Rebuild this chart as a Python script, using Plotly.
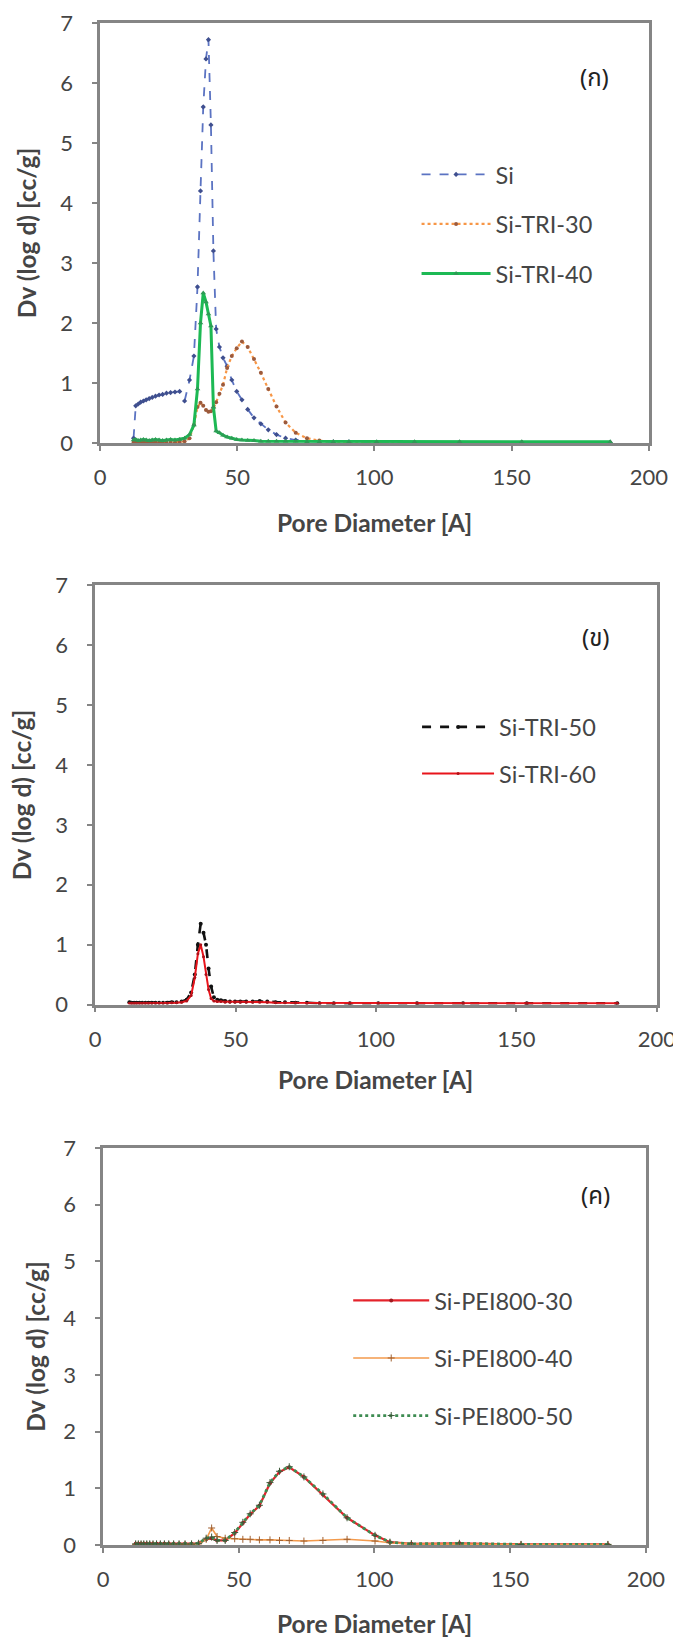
import plotly.graph_objects as go

# ---------------- data ----------------
# Panel (ก): pore size distributions (BJH) of Si, Si-TRI-30, Si-TRI-40
d_a = [12.2, 13.0, 13.9, 14.8, 15.8, 16.8, 17.9, 19.0, 20.2, 21.5, 22.8, 24.2,
       25.7, 27.3, 29.0, 30.8, 32.6, 34.2, 35.5, 36.6, 37.6, 38.6, 39.5, 40.4,
       41.3, 42.3, 43.5, 44.8, 46.3, 48.0, 49.8, 51.7, 53.8, 56.1, 58.6, 61.3,
       64.3, 67.6, 71.3, 75.4, 79.9, 85.0, 90.7, 100.8, 114.6, 131.0, 153.7, 185.9]
si = [0.08, 0.62, 0.65, 0.68, 0.70, 0.72, 0.74, 0.76, 0.78, 0.80, 0.81, 0.83,
      0.84, 0.85, 0.86, 0.70, 1.05, 1.45, 2.60, 4.20, 5.60, 6.40, 6.72, 5.30,
      3.20, 1.90, 1.60, 1.42, 1.28, 1.05, 0.86, 0.72, 0.56, 0.42, 0.32, 0.22,
      0.14, 0.08, 0.05, 0.03, 0.02, 0.02, 0.02, 0.01, 0.01, 0.01, 0.01, 0.01]
si_tri_30 = [0.01, 0.01, 0.01, 0.01, 0.01, 0.01, 0.01, 0.01, 0.01, 0.01, 0.01, 0.01,
             0.01, 0.01, 0.02, 0.03, 0.08, 0.30, 0.60, 0.67, 0.62, 0.55, 0.52, 0.53,
             0.58, 0.68, 0.82, 0.97, 1.25, 1.45, 1.58, 1.69, 1.60, 1.40, 1.17, 0.90,
             0.61, 0.34, 0.17, 0.08, 0.04, 0.02, 0.01, 0.01, 0.01, 0.01, 0.01, 0.01]
si_tri_40 = [0.05, 0.06, 0.04, 0.05, 0.06, 0.05, 0.04, 0.05, 0.06, 0.05, 0.04, 0.05,
             0.06, 0.05, 0.06, 0.08, 0.14, 0.30, 0.90, 2.00, 2.50, 2.35, 2.15, 1.95,
             0.60, 0.20, 0.17, 0.13, 0.10, 0.08, 0.06, 0.05, 0.04, 0.04, 0.03, 0.03,
             0.03, 0.03, 0.03, 0.02, 0.02, 0.02, 0.02, 0.02, 0.02, 0.02, 0.02, 0.02]

# Panel (ข): Si-TRI-50, Si-TRI-60
d_b = [12.2, 13.0, 13.9, 14.8, 15.8, 16.8, 17.9, 19.0, 20.2, 21.5, 22.8, 24.2,
       25.7, 27.3, 29.0, 30.8, 32.6, 34.2, 35.5, 36.6, 37.6, 38.6, 39.5, 40.4,
       41.3, 42.3, 43.5, 44.8, 46.3, 48.0, 49.8, 51.7, 53.8, 56.1, 58.6, 61.3,
       64.3, 67.6, 71.3, 75.4, 79.9, 85.0, 90.7, 100.8, 114.6, 131.0, 153.7, 185.9]
si_tri_50 = [0.04, 0.03, 0.03, 0.03, 0.03, 0.03, 0.03, 0.03, 0.03, 0.03, 0.03, 0.03,
             0.03, 0.04, 0.04, 0.05, 0.08, 0.20, 0.50, 1.00, 1.35, 1.20, 1.00, 0.60,
             0.30, 0.12, 0.08, 0.07, 0.06, 0.05, 0.05, 0.05, 0.05, 0.05, 0.06, 0.05,
             0.04, 0.04, 0.03, 0.03, 0.02, 0.02, 0.02, 0.02, 0.02, 0.02, 0.02, 0.02]
si_tri_60 = [0.02, 0.02, 0.02, 0.02, 0.02, 0.02, 0.02, 0.02, 0.02, 0.02, 0.02, 0.02,
             0.02, 0.03, 0.03, 0.04, 0.06, 0.15, 0.45, 0.85, 1.00, 0.80, 0.50, 0.25,
             0.10, 0.06, 0.05, 0.05, 0.04, 0.04, 0.04, 0.04, 0.04, 0.04, 0.04, 0.04,
             0.03, 0.03, 0.03, 0.02, 0.02, 0.02, 0.02, 0.02, 0.02, 0.02, 0.02, 0.02]

# Panel (ค): Si-PEI800-30, -40, -50
d_c = [12.0, 13.0, 14.0, 15.0, 16.1, 17.2, 18.4, 19.7, 21.1, 22.6, 24.2, 26.0,
       28.0, 30.2, 32.6, 35.2, 38.0, 40.0, 42.0, 45.0, 48.5, 51.5, 54.2, 57.6,
       61.5, 65.0, 68.6, 74.0, 81.0, 89.9, 100.2, 105.7, 113.6, 131.3, 154.0, 186.0]
si_pei_30 = [0.02, 0.02, 0.02, 0.02, 0.02, 0.02, 0.02, 0.02, 0.02, 0.02, 0.02, 0.02,
             0.02, 0.02, 0.02, 0.03, 0.10, 0.12, 0.08, 0.08, 0.21, 0.39, 0.54, 0.69,
             1.09, 1.29, 1.37, 1.20, 0.89, 0.48, 0.17, 0.05, 0.02, 0.03, 0.01, 0.01]
si_pei_40 = [0.01, 0.01, 0.01, 0.01, 0.01, 0.01, 0.01, 0.01, 0.01, 0.01, 0.01, 0.01,
             0.01, 0.01, 0.01, 0.02, 0.10, 0.30, 0.15, 0.12, 0.11, 0.10, 0.10, 0.09,
             0.09, 0.08, 0.08, 0.07, 0.08, 0.10, 0.07, 0.04, 0.02, 0.01, 0.01, 0.01]
si_pei_50 = [0.02, 0.02, 0.02, 0.02, 0.02, 0.02, 0.02, 0.02, 0.02, 0.02, 0.02, 0.02,
             0.02, 0.02, 0.02, 0.03, 0.12, 0.14, 0.08, 0.08, 0.22, 0.40, 0.55, 0.70,
             1.10, 1.30, 1.38, 1.20, 0.90, 0.48, 0.17, 0.05, 0.02, 0.03, 0.01, 0.01]

x_ticks = [0, 50, 100, 150, 200]
y_ticks = [0, 1, 2, 3, 4, 5, 6, 7]
x_title = "Pore Diameter [A]"
y_title = "Dv (log d) [cc/g]"
panel_tags = ["(ก)", "(ข)", "(ค)"]

# ---------------- page geometry ----------------
# Positions below are written in screen pixels of the 673 x 1637 view;
# SX/OX and SY/OY convert them to pixels of the html document.
SX, OX = 0.966, -4.0
SY, OY = 0.981, 7.3
BODY = 8                                   # default html body margin
W = int(round((673 - OX) / SX)) - BODY
H = int(round((1637 - OY) / SY)) - BODY


def px(x_img):
    return ((x_img - OX) / SX - BODY) / W


def py(y_img):
    return 1 - ((y_img - OY) / SY - BODY) / H


def plen(d_img):
    return d_img / SX


FONT = "Lato, 'Open Sans', sans-serif"
THAI = "'Noto Sans Thai', 'Noto Sans', 'DejaVu Sans', sans-serif"
TXT = "#454545"

fig = go.Figure()


def add(x, y, name, axis, legend, color, dash, width, msym, msize, mcolor):
    fig.add_trace(go.Scatter(
        x=x, y=y, name=name, mode="lines+markers",
        xaxis="x" + axis, yaxis="y" + axis, legend=legend, legendgroup=name,
        line=dict(color=color, dash=dash, width=width),
        marker=dict(symbol=msym, size=msize, color=mcolor),
    ))


add(d_a, si, "Si", "", "legend", "#5B73C2", "dash", 1.8, "diamond", 4, "#3F4F8F")
add(d_a, si_tri_30, "Si-TRI-30", "", "legend", "#F79646", "dot", 2.2, "circle", 4, "#9C5A3C")
add(d_a, si_tri_40, "Si-TRI-40", "", "legend", "#1DB954", "solid", 3.0, "triangle-up", 5, "#2E9A55")

add(d_b, si_tri_50, "Si-TRI-50", "2", "legend2", "#111111", "dash", 2.6, "circle", 4, "#111111")
add(d_b, si_tri_60, "Si-TRI-60", "2", "legend2", "#E8141B", "solid", 2.0, "circle", 3, "#B01018")

add(d_c, si_pei_30, "Si-PEI800-30", "3", "legend3", "#E4232B", "solid", 2.2, "circle", 4, "#A01A20")
add(d_c, si_pei_40, "Si-PEI800-40", "3", "legend3", "#F39A4C", "solid", 1.6, "cross-thin-open", 5, "#A06030")
add(d_c, si_pei_50, "Si-PEI800-50", "3", "legend3", "#3E8C52", "dot", 2.8, "cross-thin-open", 5, "#3E5A3A")

# plot-area boxes in screen pixels: (left, right, top, bottom)
boxes = [(98, 648, 24, 443), (93, 656, 585, 1003), (101, 645, 1146, 1542)]

axis_common = dict(
    showline=True, mirror=True, linecolor="#858585", linewidth=2.5,
    ticks="outside", ticklen=5, tickwidth=1.5, tickcolor="#858585",
    showgrid=False, zeroline=False,
    tickfont=dict(family=FONT, size=22, color=TXT),
)

layout = dict(
    width=W, height=H, margin=dict(l=0, r=0, t=0, b=0),
    paper_bgcolor="white", plot_bgcolor="white", showlegend=True,
)

for i, (l, r, t, b) in enumerate(boxes):
    sfx = "" if i == 0 else str(i + 1)
    layout["xaxis" + sfx] = dict(
        domain=[px(l), px(r)], range=[0, 200], tickvals=x_ticks,
        anchor="y" + sfx, ticklabelstandoff=8, **axis_common)
    layout["yaxis" + sfx] = dict(
        domain=[py(b), py(t)], range=[0, 7], tickvals=y_ticks,
        anchor="x" + sfx, ticklabelstandoff=15, **axis_common)

# legends: (line start, first entry centre, entry spacing, line length) in px
leg_spec = [(420, 173, 47.5, 67), (420.5, 724, 45, 70), (351.5, 1296, 55.5, 73)]
for i, (lx, cy, step, ln) in enumerate(leg_spec):
    key = "legend" if i == 0 else "legend" + str(i + 1)
    layout[key] = dict(
        x=px(lx - 5 * SX), y=py(cy - 20 * SY), xanchor="left", yanchor="top",
        bgcolor="rgba(0,0,0,0)", borderwidth=0, itemwidth=round(plen(ln)),
        traceorder="grouped", tracegroupgap=round(step / SY - 32.5),
        font=dict(family=FONT, size=23.5, color=TXT),
    )

fig.update_layout(**layout)

# axis titles and panel tags
xt_rows = [522, 1078, 1620]
yt_cols = [25, 20, 33]
annots = []
for i, (l, r, t, b) in enumerate(boxes):
    annots.append(dict(
        text="<b>" + x_title + "</b>", xref="paper", yref="paper",
        x=px((l + r) / 2), y=py(xt_rows[i]), showarrow=False,
        xanchor="center", yanchor="middle",
        font=dict(family=FONT, size=24.5, color=TXT)))
    annots.append(dict(
        text="<b>" + y_title + "</b>", xref="paper", yref="paper",
        x=px(yt_cols[i]), y=py((t + b) / 2), showarrow=False,
        textangle=-90, xanchor="center", yanchor="middle",
        font=dict(family=FONT, size=24.5, color=TXT)))
    sfx = "" if i == 0 else str(i + 1)
    annots.append(dict(
        text=panel_tags[i], xref="x" + sfx, yref="y" + sfx,
        x=[180, 178.3, 181.6][i], y=[6.06, 6.11, 6.14][i], showarrow=False,
        xanchor="center", yanchor="middle",
        font=dict(family=THAI, size=24, color="#222222")))
fig.update_layout(annotations=annots)

fig.write_html("out.html")
